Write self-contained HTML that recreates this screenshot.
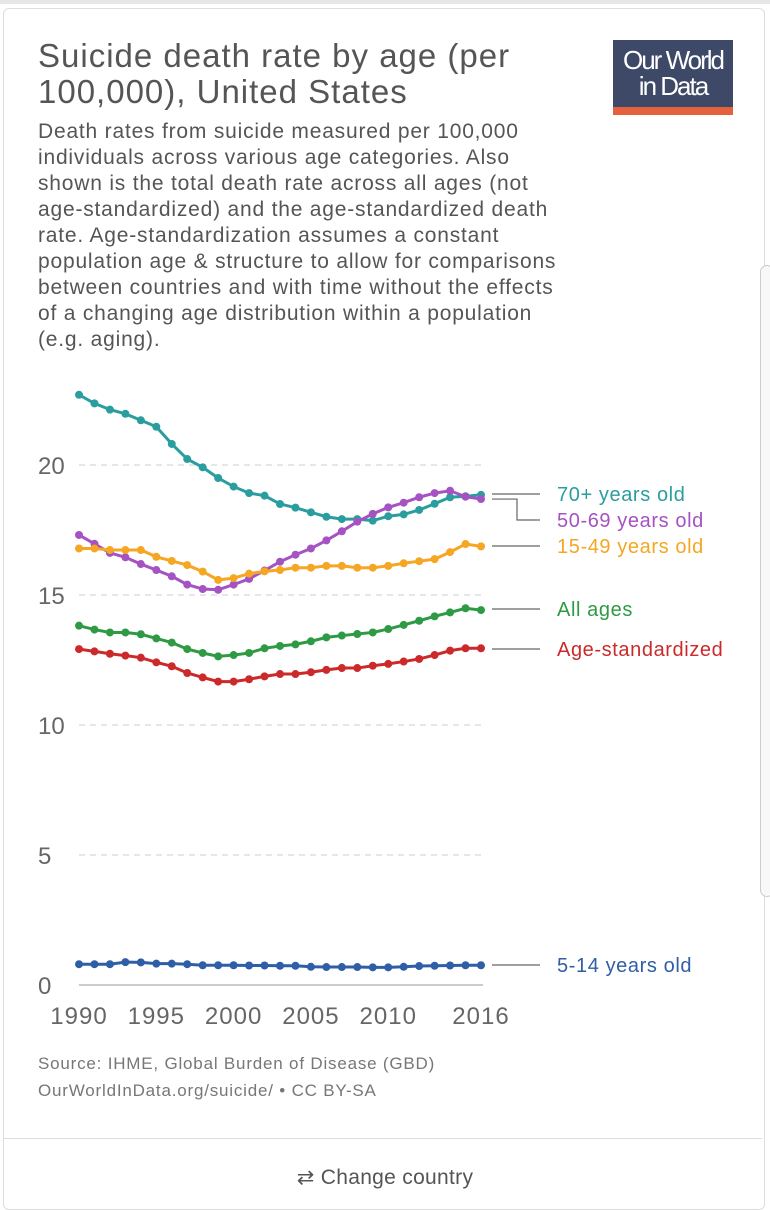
<!DOCTYPE html>
<html><head><meta charset="utf-8"><style>
body{margin:0;width:770px;height:1200px;background:#fff;font-family:"Liberation Sans",sans-serif;overflow:hidden;position:relative}
.card{position:absolute;left:3px;top:8px;width:760px;height:1200px;border:1px solid #ddd;border-radius:6px;background:#fff}
.topbar{position:absolute;left:0;top:0;width:770px;height:4px;background:#e6e6e6}
h1{position:absolute;left:38px;top:38px;margin:0;font-weight:normal;font-size:33px;line-height:36px;color:#555;white-space:nowrap;letter-spacing:1px}
.sub{position:absolute;left:38px;top:119px;font-size:21px;line-height:26px;color:#555;white-space:nowrap;letter-spacing:0.8px}
.logo{position:absolute;left:613px;top:40px;width:120px;height:75px;background:#3d4966;color:#fff;font-size:26px;line-height:26px;text-align:center;letter-spacing:-2px}
.logo .bar{position:absolute;left:0;bottom:0;width:120px;height:8px;background:#e5603f}
.src{position:absolute;left:38px;top:1050px;font-size:17px;line-height:27px;color:#777;letter-spacing:0.8px}
.sep{position:absolute;left:4px;top:1138px;width:758px;height:1px;background:#ddd}
.cc{position:absolute;left:0;width:770px;top:1165px;text-align:center;font-size:21px;color:#555;letter-spacing:0.3px}
.scroll{position:absolute;left:760px;top:265px;width:12px;height:630px;border:1px solid #ccc;border-radius:8px;background:#f8f8f8}
</style></head><body>
<div class="topbar"></div>
<div class="card"></div>
<div class="scroll"></div>
<h1>Suicide death rate by age (per<br>100,000), United States</h1>
<div class="logo"><div style="padding-top:7px">Our World<br>in Data</div><div class="bar"></div></div>
<div class="sub">Death rates from suicide measured per 100,000<br>individuals across various age categories. Also<br>shown is the total death rate across all ages (not<br>age-standardized) and the age-standardized death<br>rate. Age-standardization assumes a constant<br>population age &amp; structure to allow for comparisons<br>between countries and with time without the effects<br>of a changing age distribution within a population<br>(e.g. aging).</div>
<svg id="chart" style="position:absolute;left:0;top:0" width="770" height="1050"></svg>
<div class="src">Source: IHME, Global Burden of Disease (GBD)<br>OurWorldInData.org/suicide/ • CC BY-SA</div>
<div class="sep"></div>
<div class="cc">⇄ Change country</div>
<script>
const years=[1990,1991,1992,1993,1994,1995,1996,1997,1998,1999,2000,2001,2002,2003,2004,2005,2006,2007,2008,2009,2010,2011,2012,2013,2014,2015,2016];
const s70=[22.7,22.37,22.13,21.97,21.72,21.47,20.81,20.23,19.91,19.5,19.17,18.92,18.82,18.5,18.36,18.18,18.01,17.92,17.92,17.86,18.03,18.1,18.27,18.51,18.76,18.8,18.85];
const s5069=[17.31,16.97,16.62,16.45,16.19,15.96,15.72,15.4,15.23,15.2,15.4,15.62,15.94,16.28,16.55,16.79,17.1,17.45,17.82,18.12,18.37,18.55,18.76,18.92,19.01,18.78,18.69];
const s1549=[16.79,16.79,16.73,16.73,16.73,16.47,16.31,16.15,15.9,15.58,15.65,15.82,15.91,15.96,16.05,16.05,16.12,16.12,16.05,16.05,16.12,16.22,16.3,16.38,16.65,16.96,16.87];
const sAll=[13.82,13.67,13.56,13.56,13.49,13.33,13.17,12.92,12.77,12.64,12.69,12.77,12.95,13.04,13.1,13.22,13.37,13.44,13.5,13.56,13.69,13.85,14.01,14.18,14.33,14.49,14.42];
const sStd=[12.92,12.83,12.74,12.67,12.59,12.41,12.26,12.0,11.83,11.67,11.67,11.76,11.87,11.96,11.96,12.03,12.12,12.19,12.19,12.28,12.35,12.44,12.54,12.69,12.86,12.95,12.95];
const s514=[0.8,0.8,0.8,0.88,0.87,0.82,0.82,0.8,0.76,0.76,0.76,0.75,0.75,0.74,0.74,0.7,0.69,0.69,0.69,0.68,0.68,0.7,0.73,0.74,0.75,0.76,0.76];
const yTicks=[0,5,10,15,20];
const xTicks=[1990,1995,2000,2005,2010,2016];
const seriesNames=["70+ years old","50-69 years old","15-49 years old","All ages","Age-standardized","5-14 years old"];
const colors=["#2a9d9f","#a552c2","#f5a623","#2e9a44","#cc2a2a","#2f5ea6"];
const all=[s70,s5069,s1549,sAll,sStd,s514];
const labelY=[494,520,546,609,649,965];
const X=y=>79+(y-1990)*(481-79)/26;
const Y=v=>985-v*26;
const svg=document.getElementById('chart');
const NS='http://www.w3.org/2000/svg';
function mk(t,a){const e=document.createElementNS(NS,t);for(const k in a)e.setAttribute(k,a[k]);svg.appendChild(e);return e;}
yTicks.forEach(t=>{
 if(t>0){const l=mk('line',{x1:79,x2:483,y1:Y(t),y2:Y(t),stroke:'#ccc','stroke-dasharray':'6,5'});
 
 }
 const tx=mk('text',{x:38,y:Y(t)+9,'font-size':24,fill:'#666'});tx.textContent=t;
 
 
});
xTicks.forEach(t=>{
 const tx=mk('text',{x:X(t),y:1024,'font-size':24,'letter-spacing':1,fill:'#666','text-anchor':'middle'});tx.textContent=t;
 
 
});
const ax=mk('line',{x1:79,x2:483,y1:985,y2:985,stroke:'#999'});


all.forEach((s,i)=>{
 const p=mk('polyline',{points:s.map((v,j)=>X(years[j])+','+Y(v)).join(' '),fill:'none',stroke:colors[i],'stroke-width':3});
 
 
 s.forEach((v,j)=>{const c=mk('circle',{cx:X(years[j]),cy:Y(v),r:4,fill:colors[i]});
  
  });
 const ly=labelY[i], dy=Y(s[s.length-1]);
 let pts=(Math.abs(dy-ly)>4)?`492,${dy} 517,${dy} 517,${ly} 540,${ly}`:`492,${ly} 540,${ly}`;
 const cl=mk('polyline',{points:pts,fill:'none',stroke:'#666','stroke-width':1.2});
 
 
 const t=mk('text',{x:557,y:ly+7,'font-size':20,'letter-spacing':0.6,fill:colors[i]});t.textContent=seriesNames[i];
 
 
});
</script>
</body></html>
